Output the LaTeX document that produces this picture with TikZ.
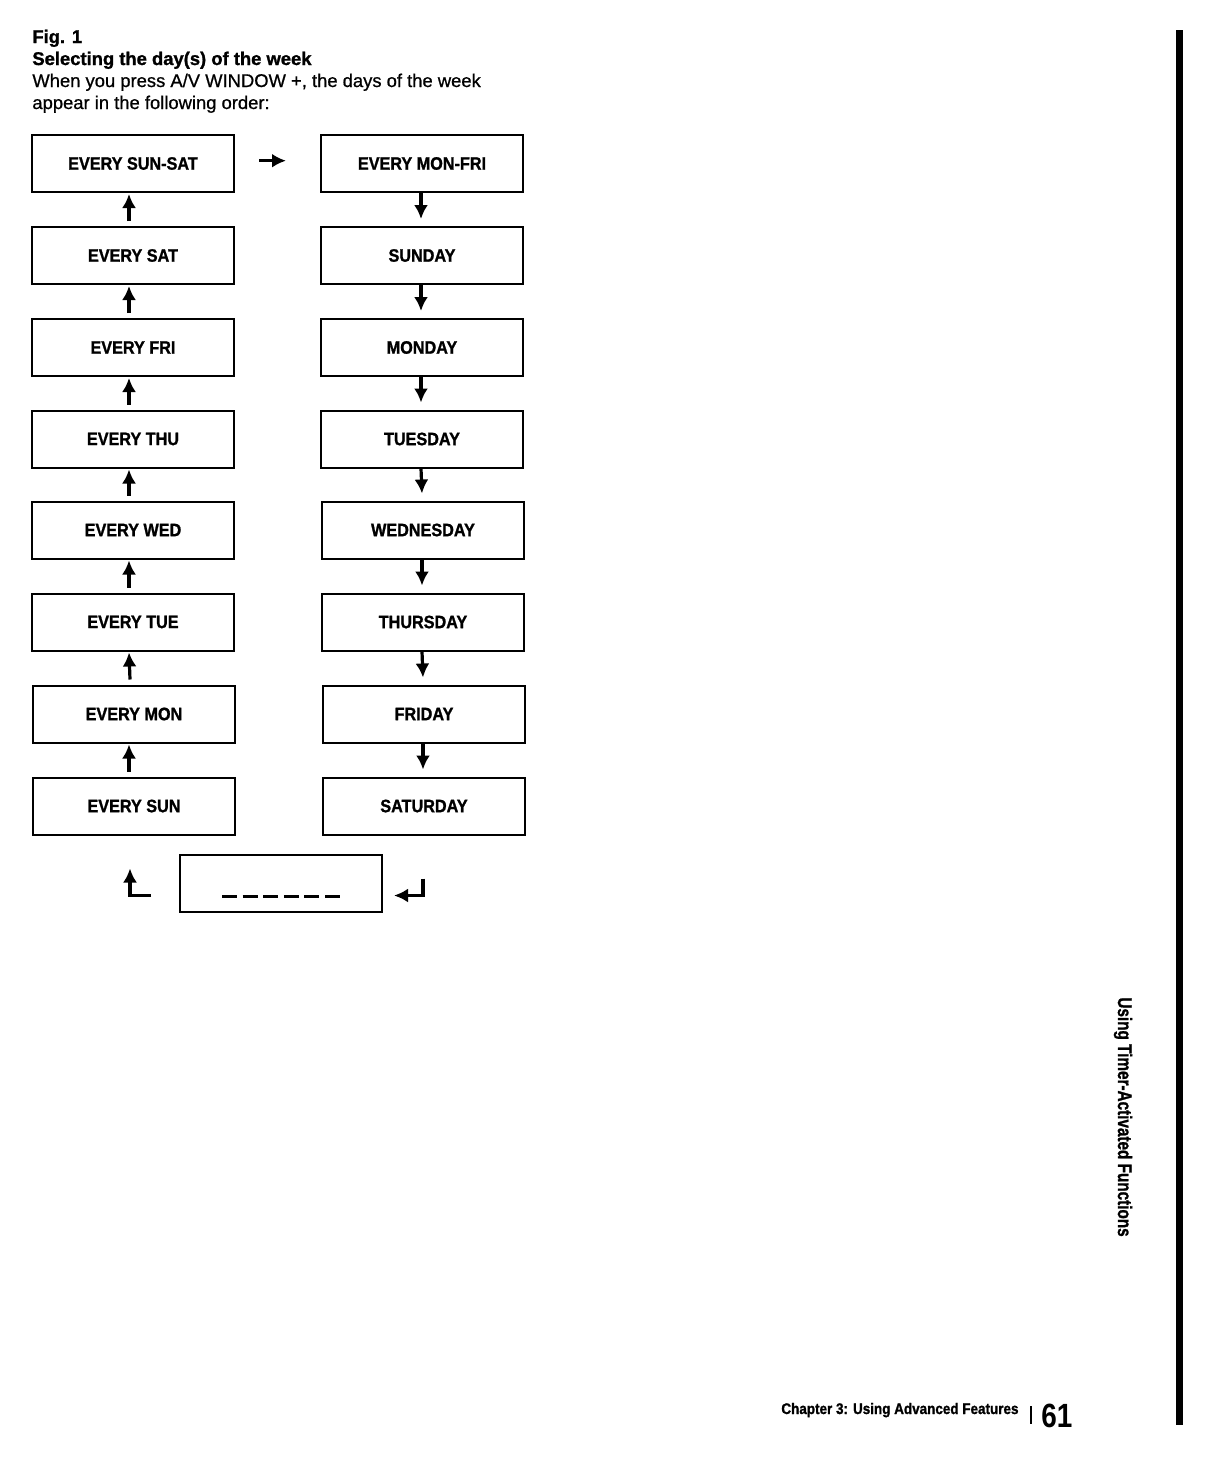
\documentclass[tikz,border=0pt]{standalone}
\usepackage{fontspec}
\setmainfont{Liberation Sans}
\newfontfamily\heavyfont{Liberation Sans Bold}[FakeBold=1.3]
\newfontfamily\mediumfont{Liberation Sans}[FakeBold=0.8]
\usetikzlibrary{arrows.meta}

\tikzset{
  daybox/.style={draw, line width=1pt, minimum width=101pt, minimum height=28.5pt, inner sep=0pt,
    font=\fontsize{9}{10}\selectfont\heavyfont},
  headline/.style={anchor=base west, inner sep=0pt, font=\fontsize{9.2}{11}\selectfont\mediumfont},
  flow/.style={-{Latex[length=7pt,width=7pt]}, line width=1.6pt},
}
\newcommand{\narrow}[2]{\scalebox{#1}[1]{#2}}

\begin{document}
\begin{tikzpicture}[x=0.5pt, y=-0.5pt]
    \useasboundingbox (0,0) rectangle (1211,1457);

    % heading
    \node[headline, font=\fontsize{9.2}{11}\selectfont\heavyfont] (fig) at (32,43) {Fig. 1};
    \node[headline, font=\fontsize{9.2}{11}\selectfont\heavyfont] (title) at (32,65) {Selecting the day(s) of the week};
    \node[headline] (intro1) at (32,87) {When you press A/V WINDOW +, the days of the week};
    \node[headline] (intro2) at (32,109) {appear in the following order:};

    % left column
    \node[daybox] (a1) at (133,163.5) {\narrow{0.9}{EVERY SUN-SAT}};
    \node[daybox] (a2) at (133,255.5) {\narrow{0.9}{EVERY SAT}};
    \node[daybox] (a3) at (133,347.5) {\narrow{0.9}{EVERY FRI}};
    \node[daybox] (a4) at (133,439) {\narrow{0.9}{EVERY THU}};
    \node[daybox] (a5) at (133,530) {\narrow{0.9}{EVERY WED}};
    \node[daybox] (a6) at (133,622) {\narrow{0.9}{EVERY TUE}};
    \node[daybox] (a7) at (134,714) {\narrow{0.9}{EVERY MON}};
    \node[daybox] (a8) at (134,806) {\narrow{0.9}{EVERY SUN}};

    % right column
    \node[daybox] (b1) at (422,163.5) {\narrow{0.9}{EVERY MON-FRI}};
    \node[daybox] (b2) at (422,255.5) {\narrow{0.9}{SUNDAY}};
    \node[daybox] (b3) at (422,347.5) {\narrow{0.9}{MONDAY}};
    \node[daybox] (b4) at (422,439) {\narrow{0.9}{TUESDAY}};
    \node[daybox] (b5) at (423,530) {\narrow{0.9}{WEDNESDAY}};
    \node[daybox] (b6) at (423,622) {\narrow{0.9}{THURSDAY}};
    \node[daybox] (b7) at (424,714) {\narrow{0.9}{FRIDAY}};
    \node[daybox] (b8) at (424,806) {\narrow{0.9}{SATURDAY}};

    % blank display
    \node[daybox] (blank) at (281,883.5) {};
    \draw[line width=1.5pt, dash pattern=on 7.5pt off 2.8pt]
        ([xshift=-29.5pt,yshift=-6.6pt]blank.center) -- ([xshift=29.5pt,yshift=-6.6pt]blank.center);

    % arrows
    \draw[flow] ([yshift=1.4pt,xshift=12pt]a1.east) -- ([yshift=1.4pt,xshift=-17pt]b1.west);

    \draw[flow] ([xshift=-2pt,yshift=2.5pt]a2.north) -- ([xshift=-2pt,yshift=-0.5pt]a1.south);
    \draw[flow] ([xshift=-2pt,yshift=2.5pt]a3.north) -- ([xshift=-2pt,yshift=-0.5pt]a2.south);
    \draw[flow] ([xshift=-2pt,yshift=2.5pt]a4.north) -- ([xshift=-2pt,yshift=-0.5pt]a3.south);
    \draw[flow] ([xshift=-2pt,yshift=2.5pt]a5.north) -- ([xshift=-2pt,yshift=-0.5pt]a4.south);
    \draw[flow] ([xshift=-2pt,yshift=2.5pt]a6.north) -- ([xshift=-2pt,yshift=-0.5pt]a5.south);
    \draw[flow] ([xshift=-2pt,yshift=2.5pt]a7.north) -- ([xshift=-2pt,yshift=-0.5pt]a6.south);
    \draw[flow] ([xshift=-2.5pt,yshift=2.5pt]a8.north) -- ([xshift=-2.5pt,yshift=-0.5pt]a7.south);

    \draw[flow] ([xshift=-0.5pt]b1.south) -- ([xshift=-0.5pt,yshift=3.5pt]b2.north);
    \draw[flow] ([xshift=-0.5pt]b2.south) -- ([xshift=-0.5pt,yshift=3.5pt]b3.north);
    \draw[flow] ([xshift=-0.5pt]b3.south) -- ([xshift=-0.5pt,yshift=3.5pt]b4.north);
    \draw[flow] ([xshift=-0.5pt]b4.south) -- ([xshift=-0.5pt,yshift=3.5pt]b5.north);
    \draw[flow] ([xshift=-0.5pt]b5.south) -- ([xshift=-0.5pt,yshift=3.5pt]b6.north);
    \draw[flow] ([xshift=-0.5pt]b6.south) -- ([xshift=-0.5pt,yshift=3.5pt]b7.north);
    \draw[flow] ([xshift=-0.5pt]b7.south) -- ([xshift=-0.5pt,yshift=3.5pt]b8.north);

    \draw[flow] ([xshift=-0.5pt,yshift=-21.5pt]b8.south) |- ([xshift=5.5pt,yshift=-6pt]blank.east);
    \draw[flow] ([xshift=-14pt,yshift=-6pt]blank.west) -| ([xshift=-2pt,yshift=-16.5pt]a8.south);

    % side tab and footer
    \fill (1176,30) rectangle (1183,1425);
    \node[anchor=base west, inner sep=0pt, rotate=-90, font=\fontsize{9.8}{10}\selectfont\heavyfont]
        (tab) at (1118,997) {\narrow{0.78}{Using Timer-Activated Functions}};
    \node[anchor=base west, inner sep=0pt, font=\fontsize{7.7}{9}\selectfont\heavyfont]
        (chapter) at (781,1414) {\narrow{0.875}{Chapter 3: Using Advanced Features}};
    \draw[line width=1pt] (1031,1406) -- (1031,1424);
    \node[anchor=base west, inner sep=0pt, font=\fontsize{16.8}{18}\selectfont\bfseries]
        (page) at (1041,1427) {\narrow{0.83}{61}};
\end{tikzpicture}
\end{document}
